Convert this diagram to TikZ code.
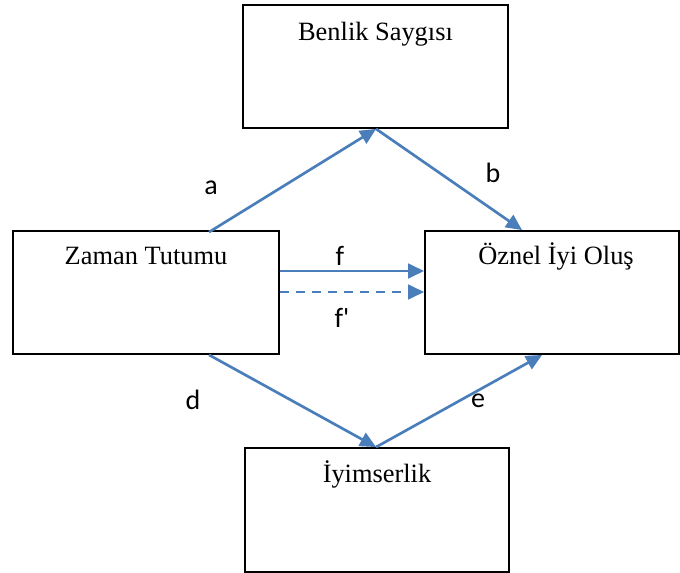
\documentclass[tikz,border=0pt]{standalone}
\usepackage{fontspec}
\setmainfont{Liberation Serif}
\newfontfamily\lblfont{Carlito}
\usepackage{xcolor}
\usepackage{tikz}
\usetikzlibrary{calc,arrows.meta}
\definecolor{arrblue}{HTML}{4A7EBB}
\tikzset{
  varbox/.style={draw=black,line width=1.4pt,rectangle,inner sep=0pt},
  vartext/.style={anchor=base,inner sep=0.75pt,font=\fontsize{19.8}{23}\selectfont},
  pathlbl/.style={inner sep=0.75pt,font=\lblfont\fontsize{21}{24}\selectfont},
  arr/.style={draw=arrblue,line width=2pt,-{Triangle[length=12pt,width=11pt]}}
}
\begin{document}
\begin{tikzpicture}[x=0.75pt,y=0.75pt,yscale=-1,xscale=1]
        \useasboundingbox (0,0) rectangle (680,573);

        \node [varbox,minimum width=198.75pt,minimum height=92.25pt] (benlik) at (375.5,66.5) {};
        \node [varbox,minimum width=199.5pt,minimum height=92.25pt] (zaman) at (146,292.5) {};
        \node [varbox,minimum width=190.5pt,minimum height=92.25pt] (oznel) at (552,292.5) {};
        \node [varbox,minimum width=198pt,minimum height=93pt] (iyimser) at (377,510) {};

        \node [vartext] (benlikT) at ($(benlik.north)+(0,36)$) {Benlik Saygısı};
        \node [vartext] (zamanT) at ($(zaman.north)+(0,34)$) {Zaman Tutumu};
        \node [vartext] (oznelT) at ($(oznel.north)+(4,34)$) {Öznel İyi Oluş};
        \node [vartext] (iyimserT) at ($(iyimser.north)+(0,35)$) {İyimserlik};

        \coordinate (aStart) at ($(zaman.north west)+(197,2)$);
        \coordinate (bMid) at ($(benlik.south west)+(134,0)$);
        \coordinate (bEnd) at ($(oznel.north west)+(98,0)$);
        \coordinate (dStart) at ($(zaman.south west)+(197,0)$);
        \coordinate (eMid) at ($(iyimser.north west)+(132,0)$);
        \coordinate (eEnd) at ($(oznel.south west)+(118,0)$);

        \draw [arr] (aStart) -- (bMid);
        \draw [arr] (bMid) -- (bEnd);
        \draw [arr] ($(zaman.east)+(0,-21.5)$) -- ($(oznel.west)+(0,-21.5)$);
        \draw [arr,dash pattern=on 7pt off 5pt] ($(zaman.east)+(0,-0.5)$) -- ($(oznel.west)+(0,-0.5)$);
        \draw [arr] (dStart) -- (eMid);
        \draw [arr] (eMid) -- (eEnd);

        \node [pathlbl] (lblA) at (211,188) {a};
        \node [pathlbl] (lblB) at (493,173) {b};
        \node [pathlbl] (lblF) at (340,256) {f};
        \node [pathlbl] (lblFp) at (342,318) {f'};
        \node [pathlbl] (lblD) at (193,400) {d};
        \node [pathlbl] (lblE) at (478,401) {e};
\end{tikzpicture}
\end{document}
